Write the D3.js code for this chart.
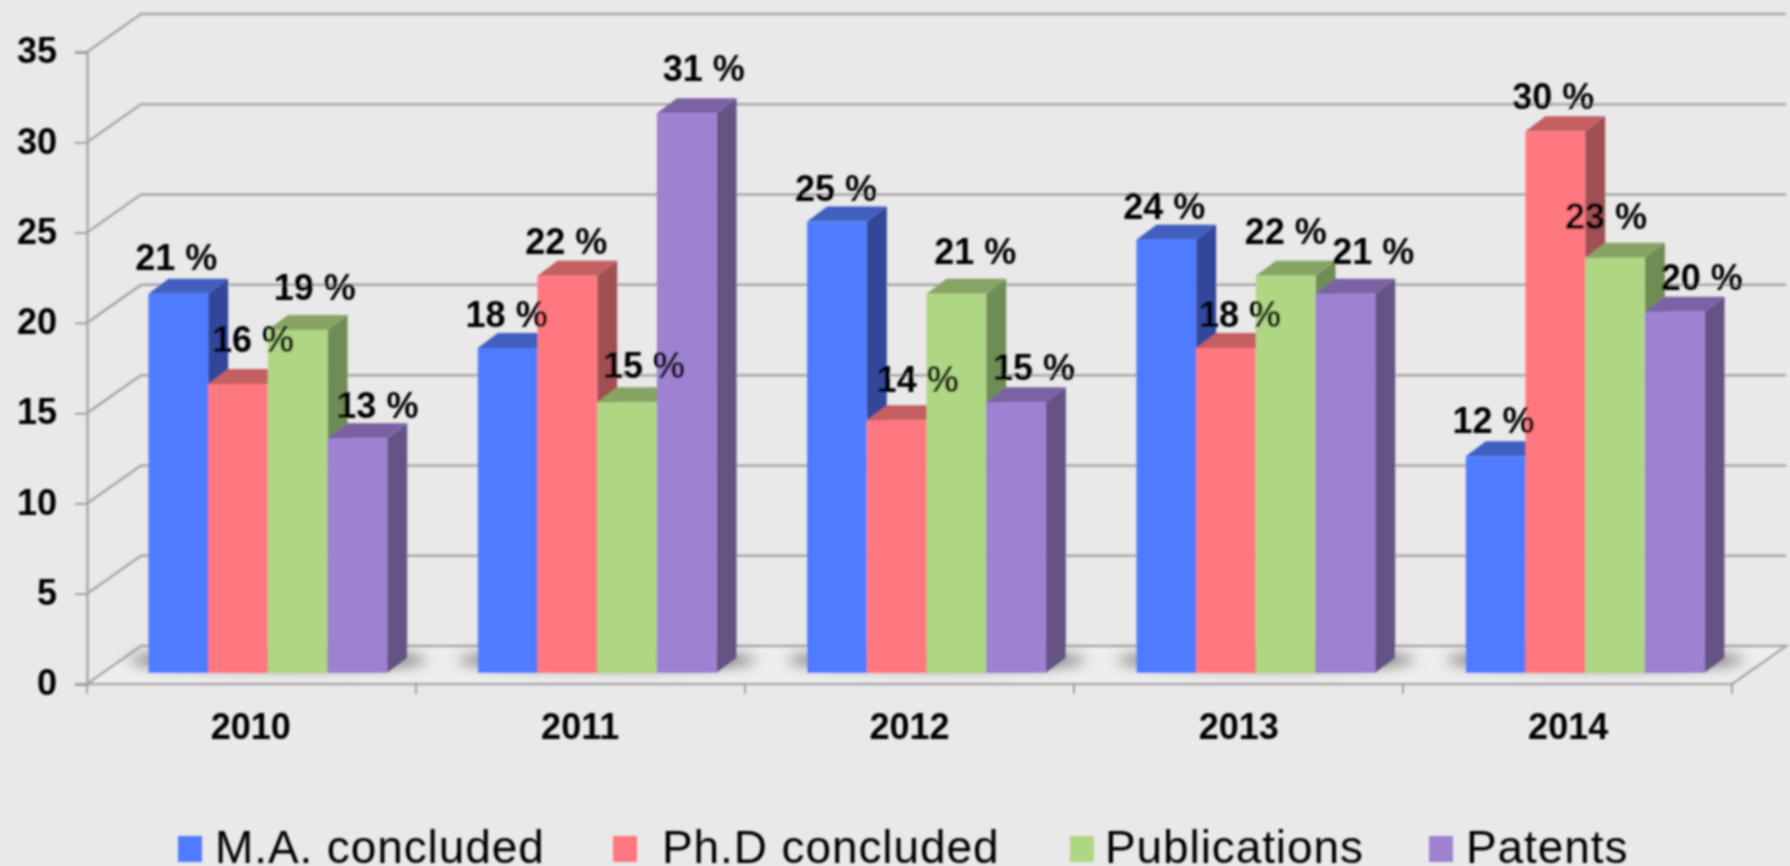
<!DOCTYPE html>
<html>
<head>
<meta charset="utf-8">
<script src="https://cdn.jsdelivr.net/npm/d3@7"></script>
<style>
  html, body { margin: 0; padding: 0; background: #e9e9e9; overflow: hidden; }
  text { font-family: "Liberation Sans", Arial, sans-serif; fill: #000; }
</style>
</head>
<body>
<div id="chart"></div>
<script>
const years = ["2010", "2011", "2012", "2013", "2014"];
const seriesNames = ["M.A. concluded", "Ph.D concluded", "Publications", "Patents"];
const maValues = [21, 18, 25, 24, 12];
const phdValues = [16, 22, 14, 18, 30];
const pubValues = [19, 15, 21, 22, 23];
const patentValues = [13, 31, 15, 21, 20];
const yTicks = [0, 5, 10, 15, 20, 25, 30, 35];

// label offsets from the top centre of each bar, same order as the series
const labelDx = [
  [-2, -1, -1, -2, -2],
  [15, -1, 21, 14, -2],
  [17, 17, 19, 0, -9],
  [20, 17, 18, 28, 27],
];
const labelDy = [
  [-36, -33, -33, -33, -35],
  [-44, -34, -40, -33, -34],
  [-42, -36, -42, -44, -41],
  [-32, -44, -34, -42, -34],
];

const colors = [
  { front: "#4f7bff", top: "#3f5fbf", side: "#30479a" },
  { front: "#ff787f", top: "#c45e62", side: "#a04f53" },
  { front: "#afd683", top: "#86a565", side: "#708c55" },
  { front: "#9e81d1", top: "#7a62a5", side: "#665285" },
];
const values = [maValues, phdValues, pubValues, patentValues];

const width = 1790;
const height = 866;
const axisLeft = 87;
const axisRight = 1732;
const wallDx = 54;
const wallDy = -38;
const barDx = 17;
const barDy = -11;
const depthDx = 20;
const depthDy = -15;

const svg = d3
  .select("#chart")
  .append("svg")
  .attr("width", width)
  .attr("height", height);

const defs = svg.append("defs");
defs.append("filter").attr("id", "soft")
  .attr("x", "-2%").attr("y", "-2%").attr("width", "104%").attr("height", "104%")
  .append("feGaussianBlur").attr("stdDeviation", 0.8);
defs.append("filter").attr("id", "shadow")
  .attr("x", "-20%").attr("y", "-150%").attr("width", "140%").attr("height", "400%")
  .append("feGaussianBlur").attr("stdDeviation", 7);

const y = d3.scaleLinear().domain([0, 35]).range([684, 52]);
const x = d3
  .scaleBand()
  .domain(years)
  .range([axisLeft, axisRight])
  .paddingInner(0.275)
  .paddingOuter(0.135);
const xSeries = d3
  .scaleBand()
  .domain(d3.range(seriesNames.length))
  .range([0, x.bandwidth()]);

const chart = svg.append("g").attr("filter", "url(#soft)");

// floor
chart
  .append("path")
  .attr("d", d3.line()([
    [axisLeft, y(0)],
    [axisLeft + wallDx, y(0) + wallDy],
    [axisRight + wallDx, y(0) + wallDy],
    [axisRight, y(0)],
  ]) + "Z")
  .attr("fill", "#eeeeee")
  .attr("stroke", "#a8a8a8")
  .attr("stroke-width", 2.5);

// wall grid lines
yTicks.slice(1).forEach((t) => {
  chart
    .append("path")
    .attr("d", d3.line()([
      [axisLeft, y(t)],
      [axisLeft + wallDx, y(t) + wallDy],
      [axisRight + wallDx, y(t) + wallDy],
    ]))
    .attr("fill", "none")
    .attr("stroke", "#a8a8a8")
    .attr("stroke-width", 2.5);
});

// shadows on the floor, behind each group
chart
  .selectAll(".shadow")
  .data(years)
  .enter()
  .append("ellipse")
  .attr("class", "shadow")
  .attr("cx", (d) => x(d) + barDx + x.bandwidth() / 2 + depthDx / 2)
  .attr("cy", y(0) + barDy - 13)
  .attr("rx", x.bandwidth() / 2 + 30)
  .attr("ry", 8)
  .attr("fill", "#5a5a5a")
  .attr("filter", "url(#shadow)");

// y axis
const yAxis = chart
  .append("g")
  .attr("transform", `translate(${axisLeft},0)`)
  .call(d3.axisLeft(y).tickValues(yTicks).tickSize(12).tickPadding(18));
yAxis.select(".domain").attr("stroke", "#a8a8a8").attr("stroke-width", 2.5);
yAxis.selectAll("line").attr("stroke", "#8c8c8c").attr("stroke-width", 1.5);
yAxis
  .selectAll("text")
  .attr("dy", "0.3em")
  .style("font-size", "36px")
  .style("font-weight", "bold");

// x axis, ticks sit between the groups
const xAxis = chart
  .append("g")
  .attr("transform", `translate(0,${y(0)})`)
  .call(d3.axisBottom(x).tickSize(0).tickPadding(29));
xAxis.select(".domain").remove();
xAxis
  .selectAll("text")
  .style("font-size", "36px")
  .style("font-weight", "bold");
chart
  .selectAll(".x-tick")
  .data(d3.range(years.length + 1))
  .enter()
  .append("line")
  .attr("class", "x-tick")
  .attr("x1", (i) => axisLeft + (i * (axisRight - axisLeft)) / years.length)
  .attr("x2", (i) => axisLeft + (i * (axisRight - axisLeft)) / years.length)
  .attr("y1", y(0))
  .attr("y2", y(0) + 10)
  .attr("stroke", "#8c8c8c")
  .attr("stroke-width", 1.5);

// bars, left to right so each front covers the side of the previous one
years.forEach((year, i) => {
  const group = chart.append("g");
  values.forEach((series, s) => {
    const x0 = x(year) + xSeries(s) + barDx;
    const x1 = x0 + xSeries.bandwidth();
    const y0 = y(series[i]) + barDy;
    const y1 = y(0) + barDy;
    const poly = d3.line();

    group
      .append("path")
      .attr("d", poly([[x1, y0], [x1 + depthDx, y0 + depthDy], [x1 + depthDx, y1 + depthDy], [x1, y1]]) + "Z")
      .attr("fill", colors[s].side);
    group
      .append("path")
      .attr("d", poly([[x0, y0], [x0 + depthDx, y0 + depthDy], [x1 + depthDx, y0 + depthDy], [x1, y0]]) + "Z")
      .attr("fill", colors[s].top);
    group
      .append("rect")
      .attr("x", x0)
      .attr("y", y0)
      .attr("width", x1 - x0)
      .attr("height", y1 - y0)
      .attr("fill", colors[s].front);
  });
});

// value labels go last, they overlap the bars
years.forEach((year, i) => {
  values.forEach((series, s) => {
    chart
      .append("text")
      .attr("x", x(year) + xSeries(s) + barDx + xSeries.bandwidth() / 2 + labelDx[s][i])
      .attr("y", y(series[i]) + barDy + labelDy[s][i] + 12)
      .attr("text-anchor", "middle")
      .style("font-size", "36px")
      .style("font-weight", "bold")
      .text(`${series[i]} %`);
  });
});

// legend
const legendSwatchX = [178, 613, 1070, 1429];
const legendTextX = [215, 662, 1105, 1466];
seriesNames.forEach((name, s) => {
  chart
    .append("rect")
    .attr("x", legendSwatchX[s])
    .attr("y", 836)
    .attr("width", 24)
    .attr("height", 26)
    .attr("fill", colors[s].front);
  chart
    .append("text")
    .attr("x", legendTextX[s])
    .attr("y", 863)
    .style("font-size", "46px")
    .style("letter-spacing", "0.9px")
    .text(name);
});
</script>
</body>
</html>
